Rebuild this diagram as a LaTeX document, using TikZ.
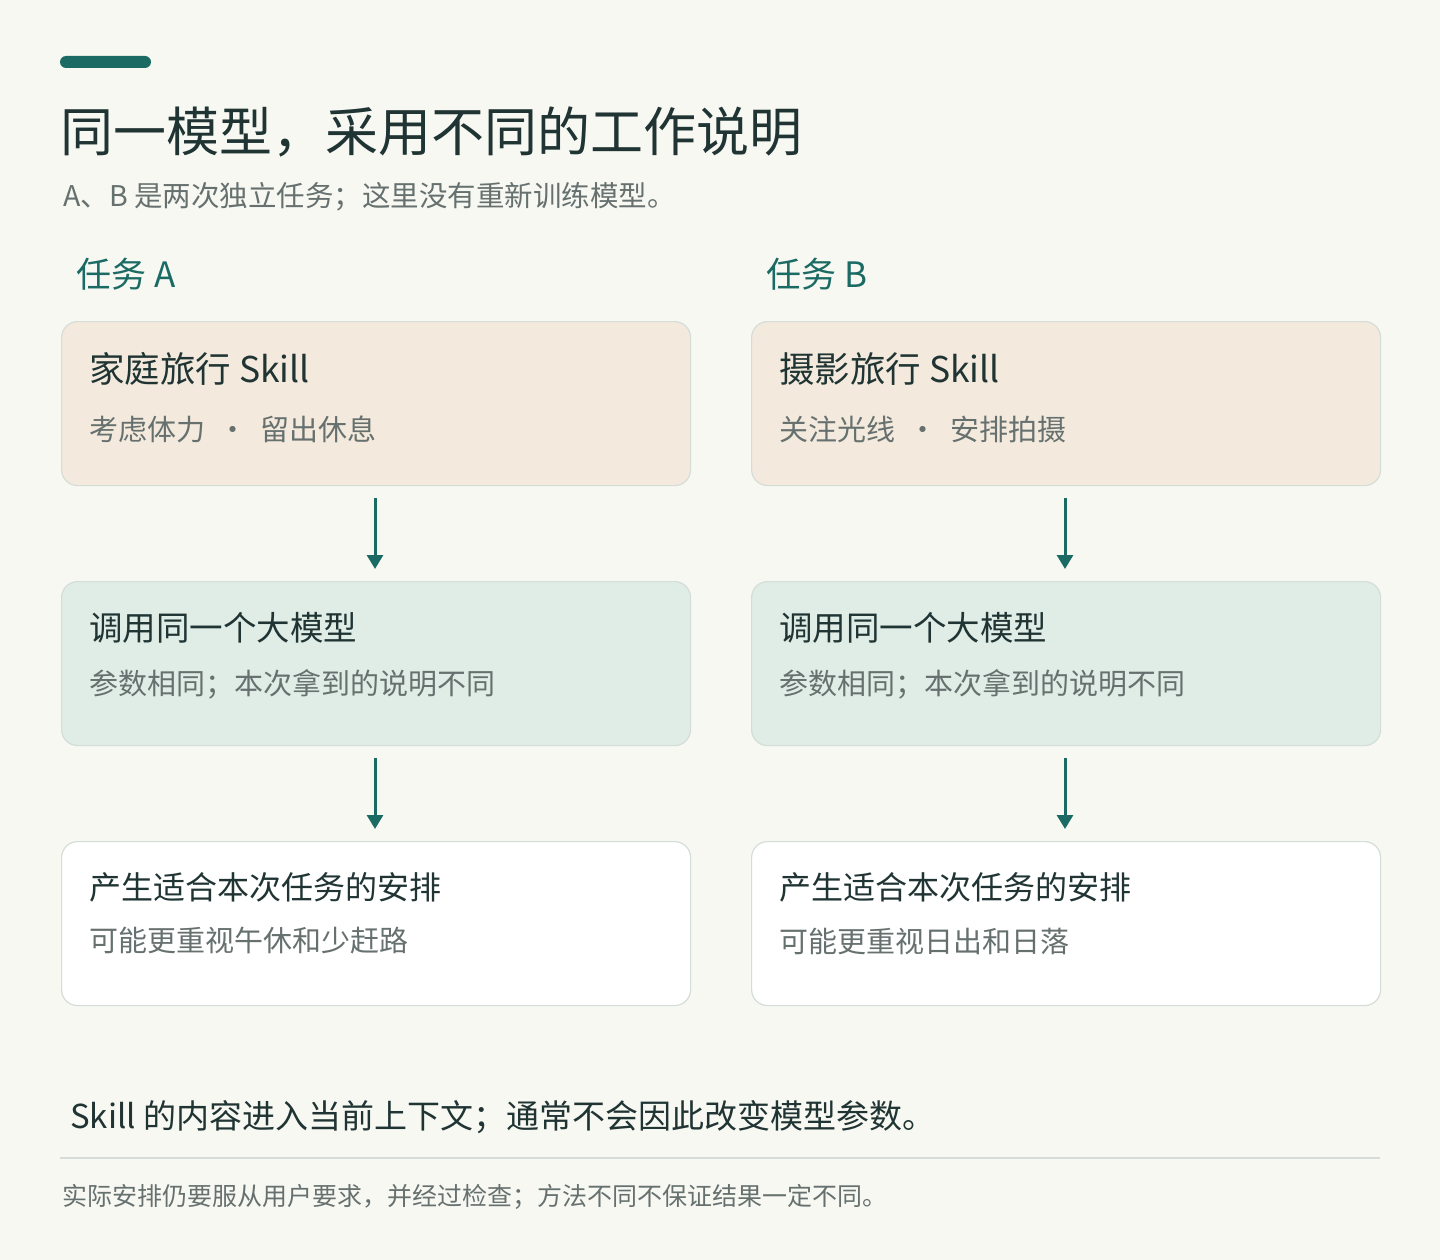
\documentclass[tikz,border=0pt]{standalone}
\usepackage{fontspec}
\setmainfont{Noto Sans CJK SC}
\usetikzlibrary{arrows.meta}
\definecolor{bg}{HTML}{F8F8F3}
\definecolor{teal}{HTML}{1B6B64}
\definecolor{dark}{HTML}{1F3433}
\definecolor{gray}{HTML}{66716F}
\definecolor{beige}{HTML}{F3E9DC}
\definecolor{mint}{HTML}{E0ECE6}
\definecolor{edge}{HTML}{D5DDD8}
\tikzset{
 card/.style={draw=edge,line width=1.2pt,rounded corners=16pt,minimum width=629pt,minimum height=164pt,anchor=north west,inner sep=0pt},
 head/.style={anchor=west,font=\fontsize{32}{36}\selectfont,text=dark,inner sep=0pt},
 sub/.style={anchor=west,font=\fontsize{29}{32}\selectfont,text=gray,inner sep=0pt},
 arr/.style={draw=teal,line width=3pt,-{Triangle[width=16pt,length=14pt]}},
}
\begin{document}
\begin{tikzpicture}[x=1pt,y=1pt]
\fill[bg] (0,0) rectangle (1440,-1260);
\useasboundingbox (0,0) rectangle (1440,-1260);
\fill[teal,rounded corners=6pt] (60,-56) rectangle (151,-68);
\node[anchor=west,inner sep=0pt,font=\fontsize{53}{58}\selectfont,text=dark] (title) at (60,-132) {同一模型，采用不同的工作说明};
\node[anchor=west,inner sep=0pt,font=\fontsize{28.5}{32}\selectfont,text=gray] (subt) at (63,-197) {A、B 是两次独立任务；这里没有重新训练模型。};
\node[anchor=west,inner sep=0pt,font=\fontsize{35}{38}\selectfont,text=teal] (ta) at (76,-274) {任务 A};
\node[anchor=west,inner sep=0pt,font=\fontsize{35}{38}\selectfont,text=teal] (tb) at (766,-274) {任务 B};
\foreach \x/\n/\h/\s/\hc in {61/a/家庭旅行 Skill/考虑体力 \ · \ 留出休息/可能更重视午休和少赶路, 751/b/摄影旅行 Skill/关注光线 \ · \ 安排拍摄/可能更重视日出和日落}{
 \node[card,fill=beige] (\n1) at (\x,-321) {};
 \node[card,fill=mint] (\n2) at (\x,-581) {};
 \node[card,fill=white] (\n3) at (\x,-841) {};
 \node[head,font=\fontsize{35.5}{38}\selectfont] (\n1h) at (\x+28,-369) {\h};
 \node[sub] (\n1s) at (\x+28,-429) {\s};
 \node[head,font=\fontsize{33.5}{36}\selectfont] (\n2h) at (\x+28,-628) {调用同一个大模型};
 \node[sub] (\n2s) at (\x+28,-684) {参数相同；本次拿到的说明不同};
 \node[head] (\n3h) at (\x+28,-887) {产生适合本次任务的安排};
 \node[sub] (\n3s) at (\x+28,-941) {\hc};
 \coordinate (\n1o) at (\x+314,-498);
 \coordinate (\n2i) at (\x+314,-569);
 \coordinate (\n2o) at (\x+314,-758);
 \coordinate (\n3i) at (\x+314,-829);
 \draw[arr] (\n1o) -- (\n2i);
 \draw[arr] (\n2o) -- (\n3i);
}
\node[anchor=west,inner sep=0pt,font=\fontsize{33}{36}\selectfont,text=dark] (note) at (70,-1117) {Skill 的内容进入当前上下文；通常不会因此改变模型参数。};
\coordinate (l1) at (60,-1158); \coordinate (l2) at (1380,-1158);
\draw[edge,line width=1.5pt] (l1) -- (l2);
\node[anchor=west,inner sep=0pt,font=\fontsize{25}{28}\selectfont,text=gray] (foot) at (62,-1197) {实际安排仍要服从用户要求，并经过检查；方法不同不保证结果一定不同。};
\end{tikzpicture}
\end{document}
